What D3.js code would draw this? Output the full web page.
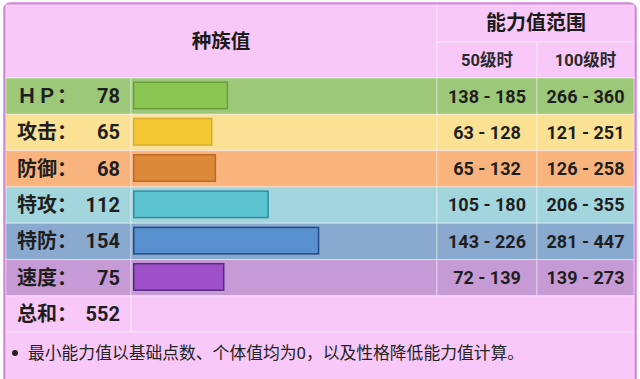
<!DOCTYPE html>
<html><head><meta charset="utf-8">
<script src="https://cdn.jsdelivr.net/npm/d3@7"></script>
<style>body{margin:0;background:#fff;}svg{display:block;}</style>
</head><body>
<svg id="c" width="640" height="379"></svg>
<script>
const statNames = ["ＨＰ：", "攻击：", "防御：", "特攻：", "特防：", "速度："];
const baseStats = [78, 65, 68, 112, 154, 75];
const range50 = ["138 - 185", "63 - 128", "65 - 132", "105 - 180", "143 - 226", "72 - 139"];
const range100 = ["266 - 360", "121 - 251", "126 - 258", "206 - 355", "281 - 447", "139 - 273"];
const totalLabel = "总和：";
const totalValue = 552;
const headerMain = "种族值";
const headerRange = "能力值范围";
const headerLv = ["50级时", "100级时"];
const footnote = "最小能力值以基础点数、个体值均为0，以及性格降低能力值计算。";

const rowFill = ["#9dc87a", "#fae194", "#f9b47d", "#a2d5dc", "#8aa9cf", "#c69bd5"];
const barFill = ["#8bc653", "#f4c834", "#dc8a3a", "#5ac3cf", "#5890d0", "#9e50c8"];
const barStroke = ["#6b9d3e", "#d6ab30", "#b96a27", "#2f8e9d", "#1f4a82", "#5a2a7e"];

const svg = d3.select("#c");
const font = "Roboto, 'Noto Sans CJK SC', sans-serif";
const pink = "#f8c8f8";
const sep = "rgba(255,255,255,0.45)";

// outer frame
svg.append("rect").attr("x", 4.5).attr("y", 3.5).attr("width", 631).attr("height", 400)
  .attr("rx", 6).attr("fill", pink).attr("stroke", "#d487d6").attr("stroke-width", 2.5);

const x0 = 6, xLab = 131, xR1 = 437, xR2 = 537, xEnd = 634;
const hTop = 5, subTop = 42, rowTop = 78, rowH = 36.3;

const y = d3.scaleBand().domain(d3.range(7)).range([rowTop, rowTop + rowH * 7]).padding(0);
const xb = d3.scaleLinear().domain([0, 255]).range([0, 306]);

// header cells
const hdr = svg.append("g");
hdr.append("rect").attr("x", x0).attr("y", hTop).attr("width", xR1 - x0).attr("height", rowTop - hTop).attr("fill", pink).attr("stroke", sep);
hdr.append("rect").attr("x", xR1).attr("y", hTop).attr("width", xEnd - xR1).attr("height", subTop - hTop).attr("fill", pink).attr("stroke", sep);
hdr.append("rect").attr("x", xR1).attr("y", subTop).attr("width", xR2 - xR1).attr("height", rowTop - subTop).attr("fill", pink).attr("stroke", sep);
hdr.append("rect").attr("x", xR2).attr("y", subTop).attr("width", xEnd - xR2).attr("height", rowTop - subTop).attr("fill", pink).attr("stroke", sep);
hdr.append("text").attr("x", 221).attr("y", 48).attr("text-anchor", "middle").attr("font-family", font)
  .attr("font-weight", 700).attr("font-size", 19.5).attr("fill", "#1a1a1a").text(headerMain);
hdr.append("text").attr("x", 536).attr("y", 30).attr("text-anchor", "middle").attr("font-family", font)
  .attr("font-weight", 700).attr("font-size", 20).attr("fill", "#1a1a1a").text(headerRange);
hdr.selectAll("text.lv").data(headerLv).join("text").attr("class", "lv")
  .attr("x", (d, i) => i ? (xR2 + xEnd) / 2 : (xR1 + xR2) / 2).attr("y", 66).attr("text-anchor", "middle")
  .attr("font-family", font).attr("font-weight", 700).attr("font-size", 16.5).attr("fill", "#2a2a2a").text(d => d);

// stat rows
const rows = svg.selectAll("g.row").data(baseStats).join("g").attr("class", "row")
  .attr("transform", (d, i) => `translate(0,${y(i)})`);
rows.append("rect").attr("x", x0).attr("width", xLab - x0).attr("height", rowH).attr("fill", (d, i) => rowFill[i]).attr("stroke", sep);
rows.append("rect").attr("x", xLab).attr("width", xR1 - xLab).attr("height", rowH).attr("fill", (d, i) => rowFill[i]).attr("stroke", sep);
rows.append("rect").attr("x", xR1).attr("width", xR2 - xR1).attr("height", rowH).attr("fill", (d, i) => rowFill[i]).attr("stroke", sep);
rows.append("rect").attr("x", xR2).attr("width", xEnd - xR2).attr("height", rowH).attr("fill", (d, i) => rowFill[i]).attr("stroke", sep);
rows.append("rect").attr("x", 133.75).attr("y", 4.2).attr("width", d => xb(d)).attr("height", 26.5)
  .attr("fill", (d, i) => barFill[i]).attr("stroke", (d, i) => barStroke[i]).attr("stroke-width", 1.5);
rows.append("text").attr("x", 17).attr("y", 25).attr("font-family", font).attr("font-weight", 700)
  .attr("font-size", 20).attr("fill", "#1e1e1e").text((d, i) => statNames[i]);
rows.append("text").attr("x", 120).attr("y", 25).attr("text-anchor", "end").attr("font-family", font).attr("font-weight", 700)
  .attr("font-size", 20).attr("fill", "#1e1e1e").text(d => d);
rows.append("text").attr("x", (xR1 + xR2) / 2).attr("y", 24.5).attr("text-anchor", "middle").attr("font-family", font).attr("font-weight", 700)
  .attr("font-size", 18).attr("fill", "#1e1e1e").text((d, i) => range50[i]);
rows.append("text").attr("x", (xR2 + xEnd) / 2).attr("y", 24.5).attr("text-anchor", "middle").attr("font-family", font).attr("font-weight", 700)
  .attr("font-size", 18).attr("fill", "#1e1e1e").text((d, i) => range100[i]);

// total row
const tr = svg.append("g").attr("transform", `translate(0,${y(6)})`);
tr.append("rect").attr("x", x0).attr("width", xLab - x0).attr("height", rowH).attr("fill", pink).attr("stroke", sep);
tr.append("rect").attr("x", xLab).attr("width", xEnd - xLab).attr("height", rowH).attr("fill", pink).attr("stroke", sep);
tr.append("text").attr("x", 17).attr("y", 25).attr("font-family", font).attr("font-weight", 700)
  .attr("font-size", 20).attr("fill", "#1e1e1e").text(totalLabel);
tr.append("text").attr("x", 120).attr("y", 25).attr("text-anchor", "end").attr("font-family", font).attr("font-weight", 700)
  .attr("font-size", 20).attr("fill", "#1e1e1e").text(totalValue);

// footnote
const fy = y(6) + rowH;
svg.append("rect").attr("x", x0).attr("y", fy).attr("width", xEnd - x0).attr("height", 379 - fy + 5).attr("fill", pink).attr("stroke", sep);
svg.append("circle").attr("cx", 15).attr("cy", fy + 21).attr("r", 3).attr("fill", "#222");
svg.append("text").attr("x", 28).attr("y", fy + 27).attr("font-family", font).attr("font-size", 16.8)
  .attr("fill", "#222").text(footnote);
</script>
</body></html>
